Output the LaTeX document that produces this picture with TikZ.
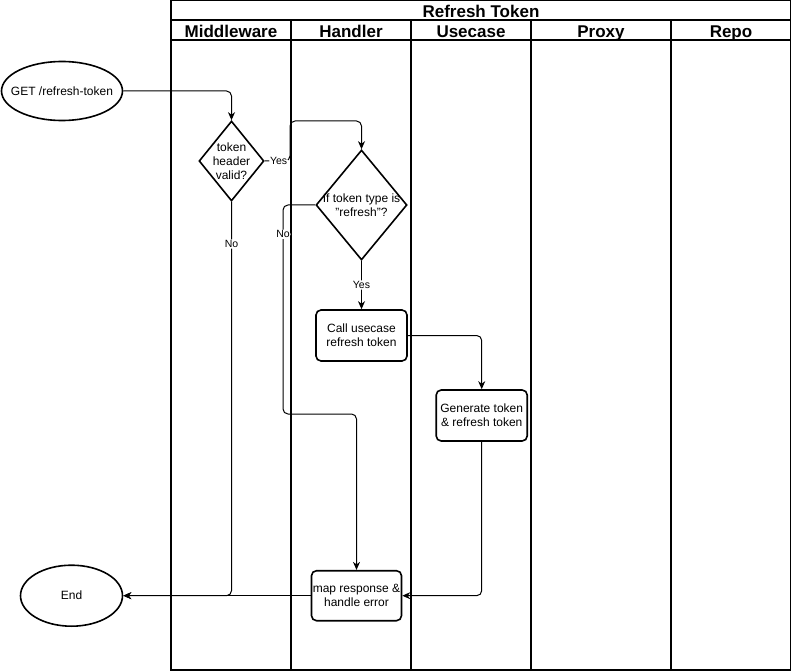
\documentclass[tikz,border=0pt]{standalone}
\usepackage{fontspec}
\setmainfont{Liberation Sans}
\usetikzlibrary{shapes.geometric,arrows.meta}

\begin{document}
\begin{tikzpicture}[x=1pt,y=-1pt,
  pool/.style={draw=black,line width=1.2pt},
  hdr/.style={font=\fontsize{17}{20}\selectfont\bfseries,inner sep=0pt,anchor=base},
  txt/.style={font=\fontsize{12}{14}\selectfont,align=center},
  term/.style={draw=black,line width=1.6pt,ellipse,inner sep=0pt},
  decide/.style={draw=black,line width=1.6pt,diamond,inner sep=0pt},
  proc/.style={draw=black,line width=1.6pt,rectangle,rounded corners=5pt,inner sep=0pt,txt},
  flow/.style={draw=black,line width=1pt,rounded corners=5pt,-{Stealth[length=8pt,width=7pt,inset=2.5pt]}},
  lbl/.style={fill=white,inner sep=1pt,font=\fontsize{10.5}{12}\selectfont}
]
\useasboundingbox (0,0) rectangle (792,671);

% swimlane pool
\draw[pool] (171,0.6) rectangle (790.6,670);
\draw[pool] (171,20) -- (790.6,20);
\draw[pool] (171,40) -- (790.6,40);
\foreach \lx in {291,411,531,671}
  \draw[pool] (\lx,20) -- (\lx,670);

\node[hdr] (title) at (481,17.5) {Refresh Token};
\node[hdr] (lmw)  at (231,37.5) {Middleware};
\node[hdr] (lhd)  at (351,37.5) {Handler};
\node[hdr] (luc)  at (471,37.5) {Usecase};
\node[hdr] (lpx)  at (601,37.5) {Proxy};
\node[hdr] (lrp)  at (731,37.5) {Repo};

% shapes (text set as centre labels so the outlines keep their size)
\node[term,minimum width=121pt,minimum height=59pt,
  label={[txt]center:GET /refresh-token}] (start) at (62,91) {};
\node[decide,minimum width=65pt,minimum height=80pt,
  label={[txt]center:token\\header\\valid?}] (d1) at (231.5,161) {};
\node[decide,minimum width=91pt,minimum height=110pt,
  label={[txt]center:If token type is\\"refresh"?}] (d2) at (361.5,205) {};
\node[proc,minimum width=91pt,minimum height=51pt] (call) at (361.5,335.5) {Call usecase\\refresh token};
\node[proc,minimum width=91pt,minimum height=51pt] (gen) at (481.7,415.5) {Generate token\\\& refresh token};
\node[proc,minimum width=90pt,minimum height=50pt] (map) at (356.5,595.7) {map response \&\\handle error};
\node[term,minimum width=102pt,minimum height=61pt,
  label={[txt]center:End}] (end) at (71.5,595.7) {};

% connectors
\draw[flow] (start.east) -| (d1.north);
\draw[flow] (d1.east) -- node[lbl,pos=0.55]{Yes} (290,161) -- (290,121) -| (d2.north);
\draw[flow] (d2.south) -- node[lbl]{Yes} (call.north);
\draw[flow] (d2.west) -- (283,205) -- node[lbl,pos=0.14]{No} (283,414) -| (map.north);
\draw[flow] (call.east) -| (gen.north);
\draw[flow] (gen.south) |- (map.east);
\draw[flow] (map.west) -- (end.east);
\draw[flow] (d1.south) -- node[lbl,pos=0.107]{No} (231.5,595.7) -- (end.east);
\end{tikzpicture}
\end{document}
